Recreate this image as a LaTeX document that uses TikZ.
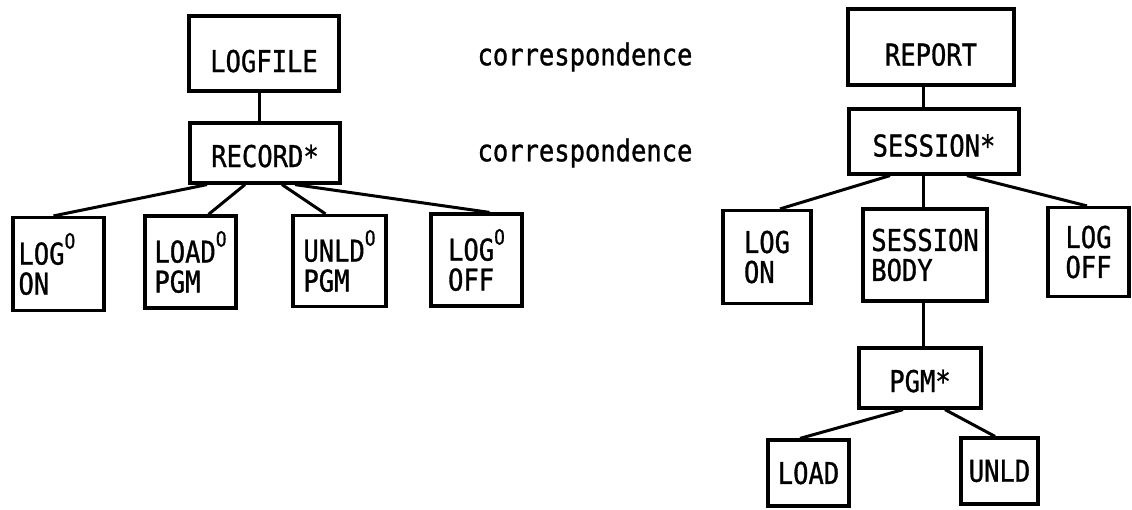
\documentclass[tikz,border=0pt]{standalone}
\usepackage{fontspec}
\newfontfamily\boxfont{DejaVu Sans Mono}[FakeStretch=0.85, FakeBold=1]
\usetikzlibrary{positioning}
\newcommand{\opt}{\raisebox{16pt}{\fontsize{21}{21}\selectfont O}}
\tikzstyle{block} = [rectangle, draw=black, line width=3.2pt, inner sep=0pt, align=left, font=\boxfont\fontsize{30}{30}\selectfont]
\tikzstyle{corrtext} = [font=\boxfont\fontsize{30}{30}\selectfont]
\tikzstyle{line} = [line width=3pt]

\begin{document}
\begin{tikzpicture}[x=1pt, y=-1pt]
\useasboundingbox (0,0) rectangle (1132,509);
% left tree
\node (logfile) [block, minimum width=150, minimum height=75, text height=37pt, text depth=0pt] at (264,53.5) {LOGFILE};
\node (record) [block, minimum width=150, minimum height=60, text height=28pt, text depth=0pt] at (265,153) {RECORD*};
\node (logon) [block, minimum width=91, minimum height=93, text width=80pt] at (58.5,264) {LOG\opt\\ON};
\node (loadpgm) [block, minimum width=91, minimum height=92] at (190.5,262) {LOAD\opt\\PGM};
\node (unldpgm) [block, minimum width=93, minimum height=91] at (339.5,261) {UNLD\opt\\PGM};
\node (logoff) [block, minimum width=91, minimum height=92] at (476.5,260) {LOG\opt\\OFF};
% middle
\node (corrtop) [corrtext] at (585,57) {correspondence};
\node (corrmid) [corrtext] at (585,153) {correspondence};
% right tree
\node (report) [block, minimum width=166, minimum height=76, text height=37pt, text depth=0pt] at (931,47) {REPORT};
\node (session) [block, minimum width=170, minimum height=65, text height=30pt, text depth=0pt] at (934,141.5) {SESSION*};
\node (logon2) [block, minimum width=88, minimum height=93] at (767,257) {LOG\\ON};
\node (body) [block, minimum width=124, minimum height=92] at (925,255) {SESSION\\BODY};
\node (logoff2) [block, minimum width=81, minimum height=89] at (1088.5,252) {LOG\\OFF};
\node (pgm) [block, minimum width=122, minimum height=60, text height=28pt, text depth=0pt] at (920,378) {PGM*};
\node (load) [block, minimum width=81, minimum height=66] at (808.5,473) {LOAD};
\node (unld) [block, minimum width=77, minimum height=66] at (999.5,471) {UNLD};

\draw [line]([xshift=-5]logfile.south) -- ([xshift=-6]record.north);
\draw [line]([xshift=-58]record.south) -- ([xshift=-5]logon.north);
\draw [line]([xshift=-20]record.south) -- ([xshift=18]loadpgm.north);
\draw [line]([xshift=17]record.south) -- ([xshift=-14]unldpgm.north);
\draw [line]([xshift=30]record.south) -- ([xshift=13]logoff.north);
\draw [line]([xshift=-8]report.south) -- ([xshift=-11]session.north);
\draw [line]([xshift=-44]session.south) -- ([xshift=13]logon2.north);
\draw [line]([xshift=-11]session.south) -- ([xshift=-2]body.north);
\draw [line]([xshift=33]session.south) -- ([xshift=-1.5]logoff2.north);
\draw [line]([xshift=-2]body.south) -- ([xshift=3]pgm.north);
\draw [line]([xshift=-17]pgm.south) -- ([xshift=-8.5]load.north);
\draw [line]([xshift=25]pgm.south) -- ([xshift=-4.5]unld.north);
\end{tikzpicture}
\end{document}
